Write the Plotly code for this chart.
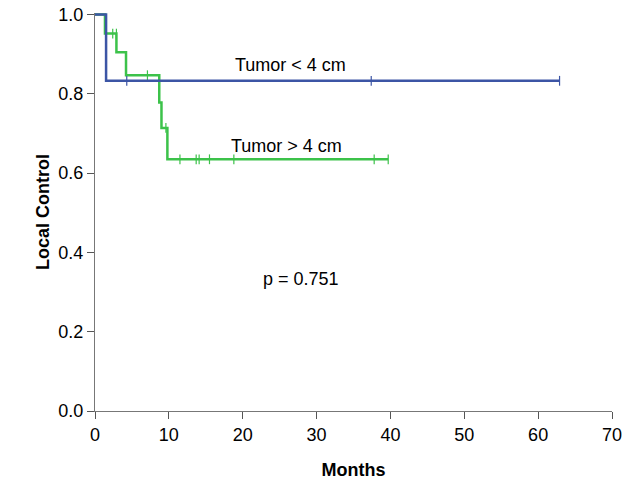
import plotly.graph_objects as go

# Kaplan-Meier step data (months, local control)
small_t = [0, 1.5, 62.9]
small_s = [1.0, 0.833, 0.833]
small_cens_t = [4.3, 37.4, 62.9]
small_cens_s = [0.833, 0.833, 0.833]

large_t = [0, 1.35, 2.9, 4.2, 8.7, 9.0, 9.8, 39.7]
large_s = [1.0, 0.952, 0.905, 0.847, 0.778, 0.714, 0.635, 0.635]
large_cens_t = [2.4, 2.9, 7.1, 9.6, 11.5, 13.7, 14.1, 15.5, 18.8, 37.8, 39.7]
large_cens_s = [0.952, 0.952, 0.847, 0.714, 0.635, 0.635, 0.635, 0.635, 0.635, 0.635, 0.635]

x_ticks = [0, 10, 20, 30, 40, 50, 60, 70]
y_ticks = [0.0, 0.2, 0.4, 0.6, 0.8, 1.0]
y_tick_labels = ["0.0", "0.2", "0.4", "0.6", "0.8", "1.0"]

BLUE = "#3C55A5"
GREEN = "#3CC24A"
FONT = "Liberation Sans, Arial, sans-serif"

fig = go.Figure()
fig.add_trace(go.Scatter(x=large_t, y=large_s, mode="lines",
                         line=dict(color=GREEN, width=2.5, shape="hv"),
                         hoverinfo="skip", showlegend=False))
fig.add_trace(go.Scatter(x=large_cens_t, y=large_cens_s, mode="markers",
                         marker=dict(symbol="line-ns", size=7,
                                     line=dict(color=GREEN, width=1.2)),
                         showlegend=False))
fig.add_trace(go.Scatter(x=small_t, y=small_s, mode="lines",
                         line=dict(color=BLUE, width=2.5, shape="hv"),
                         hoverinfo="skip", showlegend=False))
fig.add_trace(go.Scatter(x=small_cens_t, y=small_cens_s, mode="markers",
                         marker=dict(symbol="line-ns", size=7,
                                     line=dict(color=BLUE, width=1.2)),
                         showlegend=False))

ann_font = dict(family=FONT, size=18, color="black")
fig.add_annotation(x=26.45, y=0.874, text="Tumor < 4 cm", showarrow=False, font=ann_font)
fig.add_annotation(x=25.9, y=0.668, text="Tumor > 4 cm", showarrow=False, font=ann_font)
fig.add_annotation(x=27.9, y=0.334, text="p = 0.751", showarrow=False, font=ann_font)

fig.update_layout(
    width=630, height=504,
    margin=dict(l=95, r=18, t=13, b=93, autoexpand=False),
    paper_bgcolor="white", plot_bgcolor="white",
    font=dict(family=FONT, size=18, color="black"),
    xaxis=dict(range=[0, 70], tickvals=x_ticks, ticks="outside", ticklen=7,
               tickcolor="#555", showline=True, linecolor="#777", linewidth=1,
               showgrid=False, zeroline=False, ticklabeloverflow="allow",
               automargin=False,
               tickfont=dict(family=FONT, size=18),
               title=dict(text="<b>Months</b>", standoff=19,
                          font=dict(family=FONT, size=18))),
    yaxis=dict(range=[0, 1.004], tickvals=y_ticks, ticktext=y_tick_labels,
               ticks="outside", ticklen=7,
               tickcolor="#555", showline=True, linecolor="#777", linewidth=1,
               showgrid=False, zeroline=False, ticklabeloverflow="allow",
               automargin=False,
               tickfont=dict(family=FONT, size=18),
               title=dict(text="<b>Local Control</b>", standoff=4,
                          font=dict(family=FONT, size=18))),
)

# remove the default page margin so the figure sits at the window's top-left corner
fig.write_html("out.html", config={"displayModeBar": False},
               post_script="document.body.style.margin='0';")
